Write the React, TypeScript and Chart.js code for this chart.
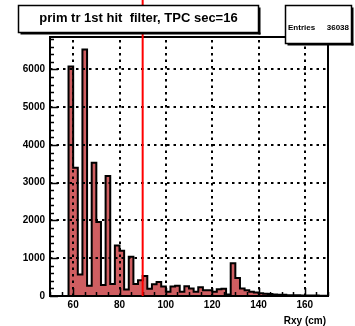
import React, { useEffect, useRef } from "react";
import { Chart, registerables } from "chart.js";

Chart.register(...registerables);

// ---- data ----
const binLowEdges = [
  50, 52, 54, 56, 58, 60, 62, 64, 66, 68, 70, 72, 74, 76, 78, 80, 82, 84, 86, 88,
  90, 92, 94, 96, 98, 100, 102, 104, 106, 108, 110, 112, 114, 116, 118, 120, 122, 124, 126, 128,
  130, 132, 134, 136, 138, 140, 142, 144, 146, 148, 150, 152, 154, 156, 158, 160, 162, 164, 166, 168,
];
const counts = [
  0, 0, 0, 0, 6080, 3400, 570, 6530, 270, 3530, 1960, 290, 3180, 320, 1340, 1200, 170, 1040, 320, 420,
  530, 190, 310, 370, 250, 110, 250, 270, 110, 260, 200, 110, 230, 150, 150, 110, 180, 190, 40, 870,
  480, 200, 150, 110, 90, 70, 60, 50, 40, 30, 30, 20, 20, 20, 10, 10, 10, 10, 5, 5,
];
const xMin = 50;
const xMax = 170;
const yMax = 6860;
const xTickValues = [60, 80, 100, 120, 140, 160];
const yTickValues = [0, 1000, 2000, 3000, 4000, 5000, 6000];
const xMinorStep = 5;
const yMinorStep = 200;
const cutValue = 90;
const titleText = "prim tr 1st hit  filter, TPC sec=16";
const entriesLabel = "Entries";
const entriesValue = "36038";
const xAxisTitle = "Rxy (cm)";

const fillColor = "#cf5e61";
const FONT = '"Liberation Sans", Arial, Helvetica, sans-serif';

function drawBox(ctx: CanvasRenderingContext2D, x: number, y: number, w: number, h: number) {
  ctx.fillStyle = "#fff";
  ctx.fillRect(x, y, w, h);
  ctx.strokeStyle = "#000";
  ctx.lineWidth = 1.5;
  ctx.strokeRect(x, y, w, h);
  ctx.fillStyle = "#000";
  // shadow on right and bottom
  ctx.fillRect(x + w, y + 2, 2, h);
  ctx.fillRect(x + 2, y + h, w, 2);
}

export default function App() {
  const ref = useRef<HTMLCanvasElement>(null);

  useEffect(() => {
    const canvas = ref.current!;
    const points = binLowEdges.map((e, i) => ({ x: e, y: counts[i] }));
    points.push({ x: xMax, y: counts[counts.length - 1] });

    const overlay = {
      id: "rootOverlay",
      afterDatasetsDraw(chart: any) {
        const { ctx, chartArea: ca, scales } = chart;
        const xs = scales.x;
        const ys = scales.y;
        ctx.save();

        // dotted grid
        ctx.strokeStyle = "#000";
        ctx.lineWidth = 2;
        ctx.setLineDash([2.5, 4]);
        for (const v of xTickValues) {
          const px = Math.round(xs.getPixelForValue(v));
          ctx.beginPath();
          ctx.moveTo(px, ca.bottom);
          ctx.lineTo(px, ca.top);
          ctx.stroke();
        }
        for (const v of yTickValues) {
          if (v === 0) continue;
          const py = Math.round(ys.getPixelForValue(v));
          ctx.beginPath();
          ctx.moveTo(ca.left, py);
          ctx.lineTo(ca.right, py);
          ctx.stroke();
        }
        ctx.setLineDash([]);

        // ticks
        ctx.lineWidth = 1.5;
        ctx.beginPath();
        for (let v = xMin; v <= xMax; v += xMinorStep) {
          const px = Math.round(xs.getPixelForValue(v)) + 0.5;
          const major = xTickValues.includes(v);
          ctx.moveTo(px, ca.bottom);
          ctx.lineTo(px, ca.bottom - (major ? 8 : 4));
        }
        for (let v = 0; v <= yMax; v += yMinorStep) {
          const py = Math.round(ys.getPixelForValue(v)) + 0.5;
          const major = yTickValues.includes(v);
          ctx.moveTo(ca.left, py);
          ctx.lineTo(ca.left + (major ? 8 : 4), py);
        }
        ctx.stroke();

        // frame
        ctx.lineWidth = 2;
        ctx.strokeRect(ca.left, ca.top, ca.right - ca.left, ca.bottom - ca.top);

        // labels
        ctx.fillStyle = "#000";
        ctx.font = `bold 10px ${FONT}`;
        ctx.textAlign = "right";
        ctx.textBaseline = "middle";
        for (const v of yTickValues) {
          ctx.fillText(String(v), ca.left - 5, ys.getPixelForValue(v));
        }
        ctx.textAlign = "center";
        ctx.textBaseline = "top";
        for (const v of xTickValues) {
          ctx.fillText(String(v), xs.getPixelForValue(v), ca.bottom + 4);
        }
        ctx.textAlign = "right";
        ctx.textBaseline = "alphabetic";
        ctx.fillText(xAxisTitle, ca.right - 2, 324);

        // cut line
        const cx = xs.getPixelForValue(cutValue);
        ctx.strokeStyle = "#ff0000";
        ctx.lineWidth = 2;
        ctx.beginPath();
        ctx.moveTo(cx, ys.getPixelForValue(0));
        ctx.lineTo(cx, 0);
        ctx.stroke();

        // title box
        drawBox(ctx, 18.5, 5.5, 240, 27);
        ctx.fillStyle = "#000";
        ctx.font = `bold 13px ${FONT}`;
        ctx.textAlign = "center";
        ctx.textBaseline = "middle";
        ctx.fillText(titleText, 138.5, 18.5);

        // stats box
        drawBox(ctx, 285.5, 5.5, 66, 38);
        ctx.fillStyle = "#000";
        ctx.font = `bold 8px ${FONT}`;
        ctx.textAlign = "left";
        ctx.textBaseline = "middle";
        ctx.fillText(entriesLabel, 288, 28);
        ctx.textAlign = "right";
        ctx.fillText(entriesValue, 349, 28);

        ctx.restore();
      },
    };

    const chart = new Chart(canvas, {
      type: "line",
      data: {
        datasets: [
          {
            data: points,
            stepped: "before",
            fill: "origin",
            backgroundColor: fillColor,
            borderColor: "#000",
            borderWidth: 2,
            borderJoinStyle: "miter",
            pointRadius: 0,
            tension: 0,
          } as any,
        ],
      },
      options: {
        responsive: false,
        animation: false,
        layout: { padding: { left: 50, top: 37, right: 27, bottom: 30 } },
        scales: {
          x: { type: "linear", min: xMin, max: xMax, display: false },
          y: { type: "linear", min: 0, max: yMax, display: false },
        },
        plugins: {
          legend: { display: false },
          tooltip: { enabled: false },
          title: { display: false },
        },
      },
      plugins: [overlay],
    });
    return () => chart.destroy();
  }, []);

  return (
    <div style={{ position: "fixed", left: 0, top: 0, width: 355, height: 326, background: "#fff" }}>
      <canvas ref={ref} width={355} height={326} style={{ display: "block" }} />
    </div>
  );
}
